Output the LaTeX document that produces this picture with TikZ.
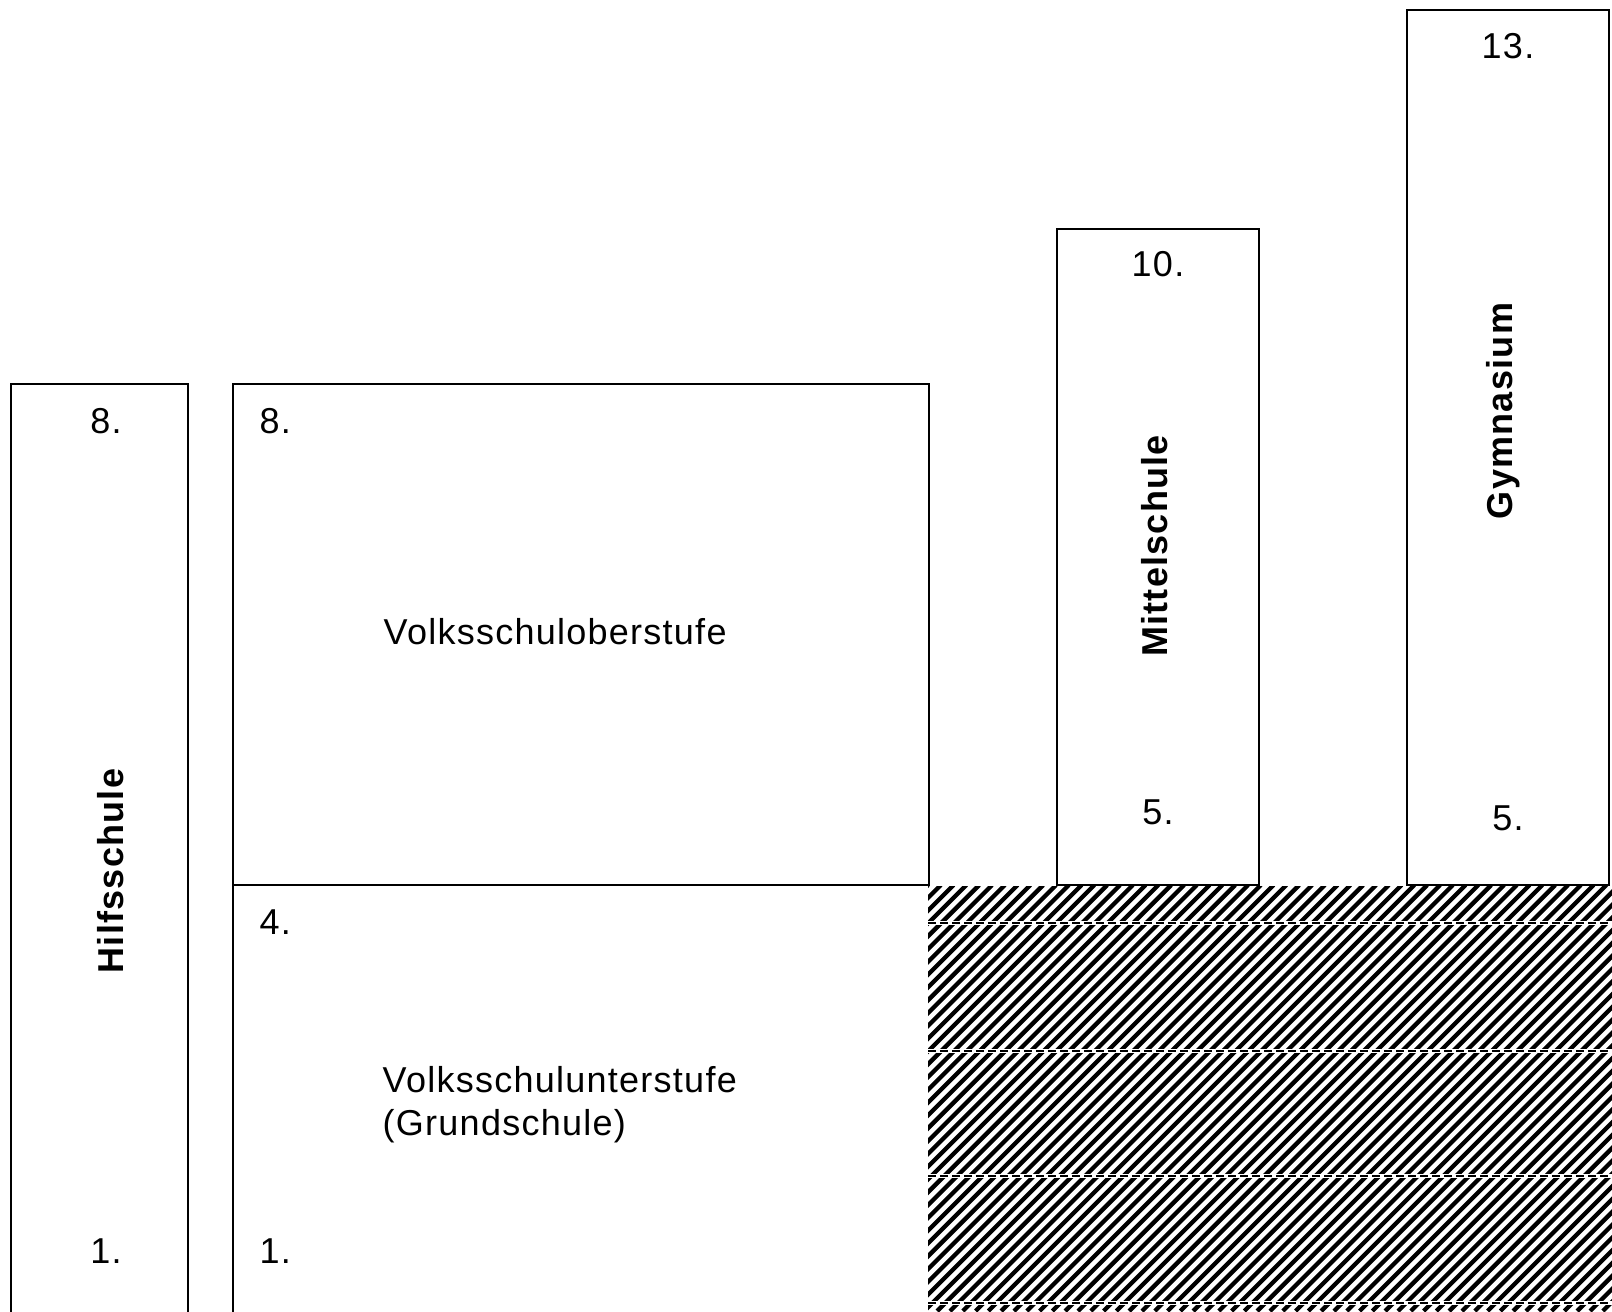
\documentclass[tikz,border=0pt]{standalone}
\usepackage{fontspec}
\setmainfont[LetterSpace = 3.5]{Liberation Sans}

\begin{document}
\begin{tikzpicture}[x = 0.75pt, y = -0.75pt, line width = 1.1pt,
	every node/.style = {inner sep = 0pt, font = \fontsize{27}{32}\selectfont},
	schoolname/.style = {rotate = 90, anchor = base, font = \fontsize{27}{32}\selectfont\bfseries}]

\useasboundingbox (0, 0) rectangle (1612, 1311);
\clip (0, 0) rectangle (1612, 1311);

	% Hatched ground
	
	\begin{scope}
		\clip (928, 886) rectangle (1612, 1311);
		\foreach \i in {0, 12.8, ..., 1150}
			\draw [line width = 3.2pt] (502 + \i, 1311) -- ++(426, -426);
		\foreach \y in {923, 1051, 1176, 1303} {
			\draw [white, line width = 2.5pt] (928, \y) -- (1612, \y);
			\draw [line width = 1.5pt, dash pattern = on 6pt off 3pt] (928, \y) -- (1612, \y);
		}
	\end{scope}
	
	% Hilfsschule
	
	\draw (11, 1330) |- (188, 384) -- (188, 1330);
	\node (hs8) at (106, 421) {8.};
	\node (hs1) at (106, 1251) {1.};
	\node [schoolname] (hs) at (123, 871) {Hilfsschule};
	
	% Volksschule
	
	\draw (233, 1330) |- (929, 384) |- (233, 885);
	\node [anchor = west] (vs8) at (259, 421) {8.};
	\node [anchor = west] (vs4) at (259, 922) {4.};
	\node [anchor = west] (vs1) at (259, 1251) {1.};
	\node [anchor = west] (vso) at (383, 632) {Volksschuloberstufe};
	\node [anchor = north west, align = left] (vsu) at (382, 1066) {Volksschulunterstufe\\(Grundschule)};
	
	% Mittelschule
	
	\draw (1057, 229) rectangle (1259, 885);
	\node (ms10) at (1158, 264) {10.};
	\node (ms5) at (1158, 812) {5.};
	\node [schoolname] (ms) at (1167, 546) {Mittelschule};
	
	% Gymnasium
	
	\draw (1407, 10) rectangle (1609, 885);
	\node (gy13) at (1508, 46) {13.};
	\node (gy5) at (1508, 818) {5.};
	\node [schoolname] (gy) at (1512, 411) {Gymnasium};

\end{tikzpicture}
\end{document}
